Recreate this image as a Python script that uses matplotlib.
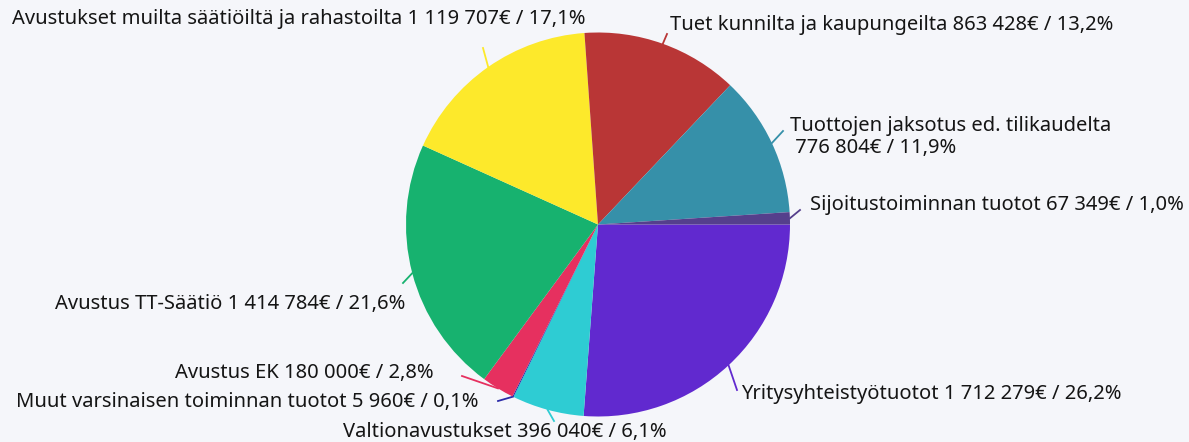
import numpy as np
import matplotlib.pyplot as plt

# tulot
labels = ["Yritysyhteistyötuotot", "Valtionavustukset",
          "Muut varsinaisen toiminnan tuotot", "Avustus EK",
          "Avustus TT-Säätiö", "Avustukset muilta säätiöiltä ja rahastoilta",
          "Tuet kunnilta ja kaupungeilta", "Tuottojen jaksotus ed. tilikaudelta\n",
          "Sijoitustoiminnan tuotot"]
values = [1712279, 396040, 5960, 180000, 1414784, 1119707, 863428, 776804, 67349]
colors = ["#6129CF", "#2ECCD3", "#2B2BA8", "#E6305F", "#17B26F",
          "#FDE92B", "#B93636", "#3690A9", "#553F8C"]

# label anchors in pixels (x, y from top, ha) and leader line end points
label_pos = [(741, 394, "left"), (343, 432, "left"), (478, 402, "right"),
             (434, 373, "right"), (405, 304, "right"), (585, 19, "right"),
             (670, 25, "left"), (790, 137, "left"), (810, 205, "left")]
line_end = [(737, 390), (554, 421), (498, 401), (462, 376), (403, 283),
            (483, 48), (667, 34), (783, 131), (800, 210)]

W, H = 1189, 442
cx, cy, R = 598, 224.5, 192

plt.rcParams['font.family'] = ['Noto Sans', 'DejaVu Sans']

fig = plt.figure(figsize=(W / 100, H / 100), dpi=100)
fig.patch.set_facecolor("#F5F6FA")
ax = fig.add_axes([0, 0, 1, 1])

wedges, _ = ax.pie(values, colors=colors, startangle=0, counterclock=False,
                   center=(cx, H - cy), radius=R, frame=True,
                   wedgeprops=dict(linewidth=0))
ax.set_xlim(0, W)
ax.set_ylim(0, H)
ax.axis("off")

def fmt(v):
    return "{:,}".format(v).replace(",", " ")

total = sum(values)
for w, lab, v, c, (px, py, ha), (ex, ey) in zip(wedges, labels, values, colors,
                                               label_pos, line_end):
    a = np.deg2rad((w.theta1 + w.theta2) / 2)
    x0, y0 = cx + R * np.cos(a), H - cy + R * np.sin(a)
    ax.plot([x0, ex], [y0, H - ey], color=c, lw=1.3, zorder=0)
    pct = "{:.1f}".format(100 * v / total).replace(".", ",")
    txt = lab + " " + fmt(v) + "€ / " + pct + "%"
    ax.text(px, H - py, txt, ha=ha, va="center", fontsize=14.5,
            color="#151515", multialignment="left", linespacing=1.1)

fig.savefig("out.png", dpi=100, facecolor=fig.get_facecolor())
